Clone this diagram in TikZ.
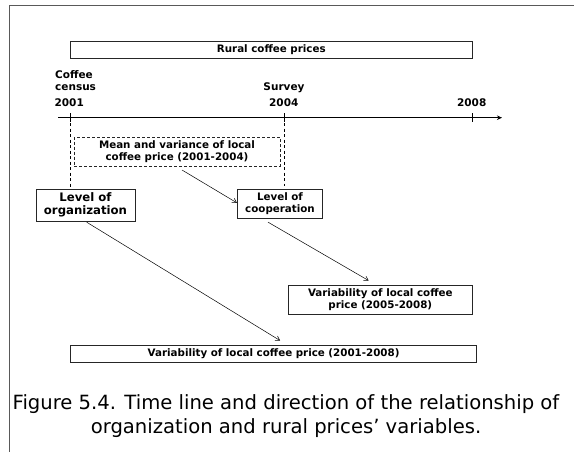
\documentclass[tikz,border=0pt]{standalone}
\usepackage{fontspec}
\setmainfont{DejaVu Sans}
\usetikzlibrary{arrows.meta}
\begin{document}
\begin{tikzpicture}[x=1pt,y=-1pt,
  box/.style={draw=black!85,line width=0.9pt,inner sep=0pt,align=center,font=\bfseries\fontsize{10.3}{12.5}\selectfont},
  dbox/.style={box,dashed,dash pattern=on 3pt off 2pt},
  lbl/.style={inner sep=0pt,font=\bfseries\fontsize{10.5}{11.7}\selectfont},
  link/.style={line width=0.5pt,-{Straight Barb[length=4pt,width=5pt]}},
  guide/.style={line width=0.8pt,dash pattern=on 3pt off 2.5pt},
  axis/.style={line width=1pt,-{Stealth[length=5pt,width=4.5pt,inset=1.5pt]}},
  capt/.style={inner sep=0pt,anchor=base,font=\fontsize{19.6}{24}\selectfont}]
\useasboundingbox (0,0) rectangle (574,452);
% outer frame
\draw[draw=black!65,line width=1.3pt] (9.3,452) -- (9.3,5.5) -- (574,5.5);
% top bar
\node[box,minimum width=401.4pt,minimum height=17pt] (rural) at (271.3,49.5) {Rural coffee prices};
% time line
\coordinate (ax0) at (58.3,117.7);
\coordinate (ax1) at (502,117.7);
\draw[axis] (ax0) -- (ax1);
\coordinate (t1) at (70.7,117.7);
\coordinate (t2) at (284.3,117.7);
\coordinate (t3) at (472.3,117.7);
\foreach \t in {t1,t2,t3} \draw[line width=0.9pt] ([yshift=4.3pt]\t) -- ([yshift=-4.3pt]\t);
\node[lbl,align=left,anchor=west] (census) at (55,80.8) {Coffee\\census};
\node[lbl] (survey) at (284,87.3) {Survey};
\node[lbl] (y1) at (69.2,102.7) {2001};
\node[lbl] (y2) at (283.8,102.7) {2004};
\node[lbl] (y3) at (471.7,102.7) {2008};
% boxes
\node[dbox,minimum width=206pt,minimum height=28.7pt] (mean) at (177,151.7) {Mean and variance of local\\coffee price (2001-2004)};
\node[box,font=\bfseries\fontsize{11.7}{12.8}\selectfont,minimum width=99pt,minimum height=31.7pt] (org) at (85.5,205.2) {Level of\\organization};
\node[box,font=\bfseries\fontsize{10.3}{11.5}\selectfont,minimum width=85.4pt,minimum height=29pt] (coop) at (280,203.8) {Level of\\cooperation};
\node[box,font=\bfseries\fontsize{10.3}{12}\selectfont,minimum width=184pt,minimum height=29pt] (var58) at (380.3,299.5) {Variability of local coffee\\price (2005-2008)};
\node[box,minimum width=406pt,minimum height=16.3pt] (var18) at (273.6,353.8) {Variability of local coffee price (2001-2008)};
% period guides
\draw[guide] (t1) -- (t1 |- org.north);
\draw[guide] (t2) -- ([yshift=3.3pt]t2 |- coop.north);
% relationships
\draw[link] ([xshift=5pt,yshift=-3.5pt]mean.south) -- ([yshift=1pt]coop.west);
\draw[link] ([xshift=-12pt,yshift=-3.4pt]coop.south) -- ([xshift=-11.7pt,yshift=4pt]var58.north);
\draw[link] ([xshift=1.2pt,yshift=-0.7pt]org.south) -- ([xshift=6.4pt,yshift=4.7pt]var18.north);
% caption
\node[capt] (cap1) at (286,409) {Figure 5.4. Time line and direction of the relationship of};
\node[capt] (cap2) at (286,433.5) {organization and rural prices’ variables.};
\end{tikzpicture}
\end{document}
